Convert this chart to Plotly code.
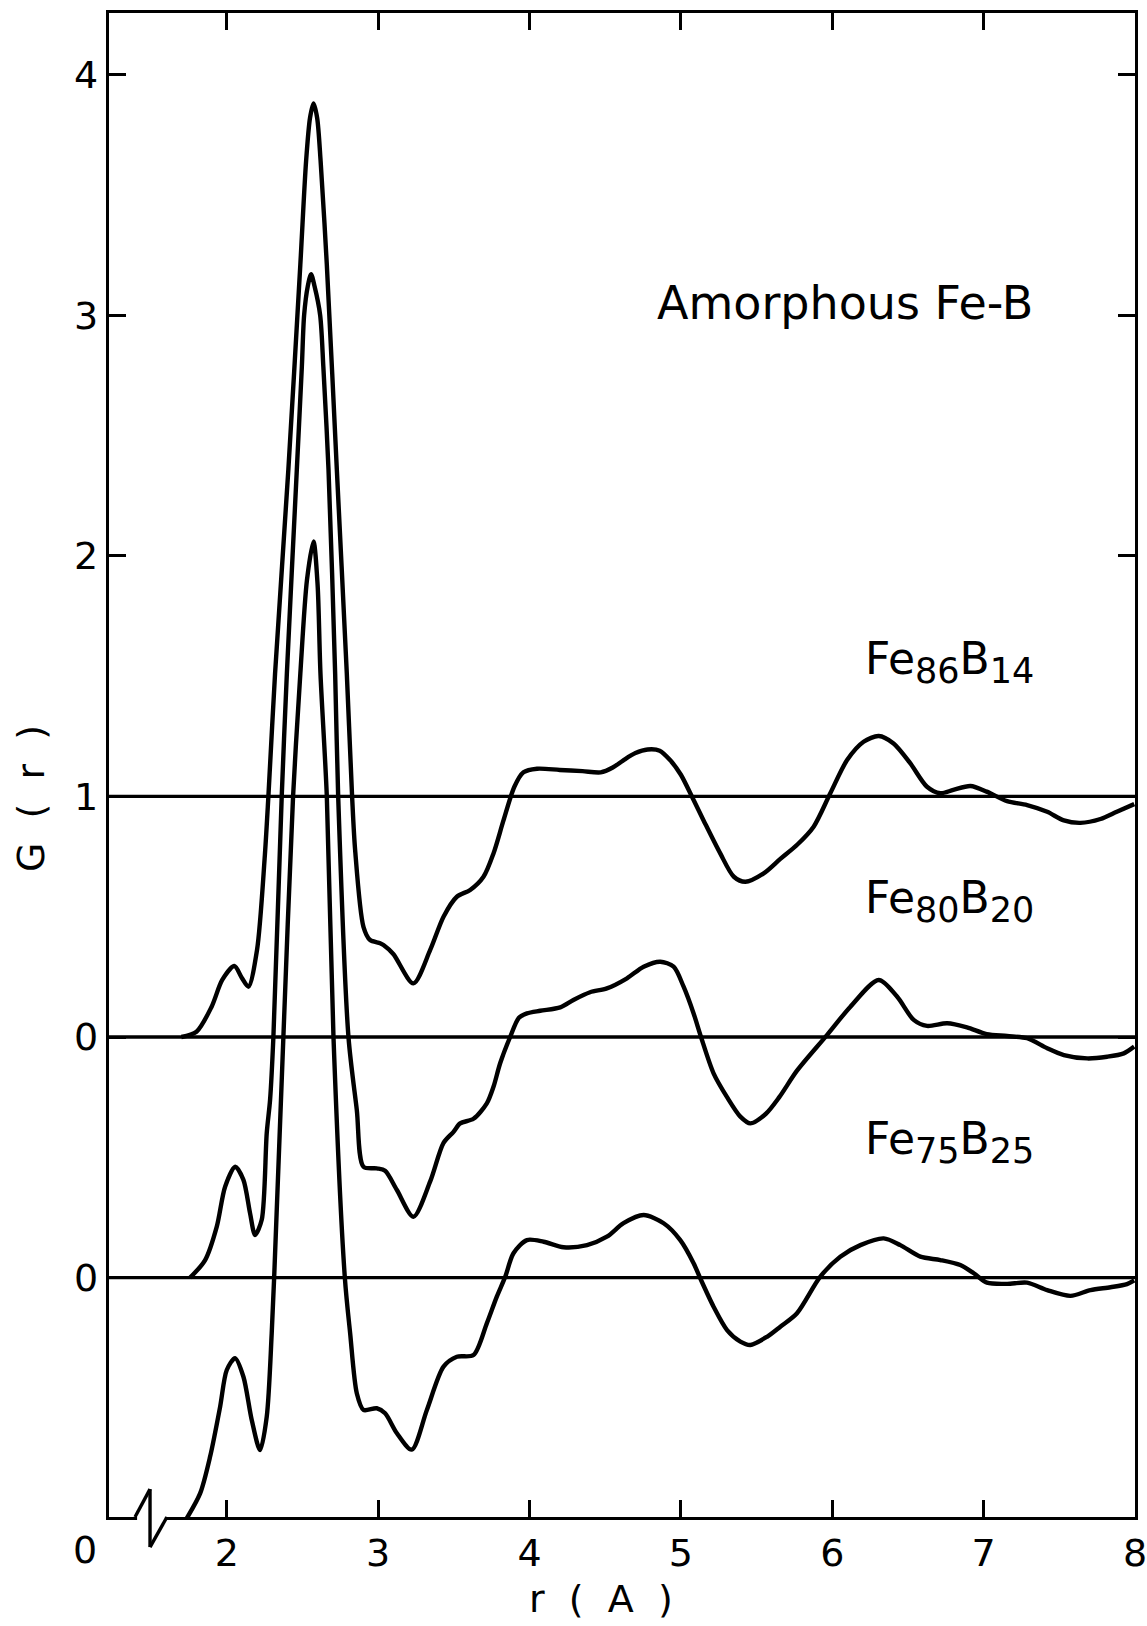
import plotly.graph_objects as go

# ---------------- data ----------------
# r in Angstrom, g(r) raw values; curves are shifted by OFFSETS when drawn
R_FE86B14 = [1.70, 1.80, 1.90, 1.97, 2.05, 2.10, 2.143, 2.20, 2.25, 2.275, 2.319, 2.407, 2.486, 2.524,
             2.55, 2.573, 2.597, 2.62, 2.661, 2.727, 2.793, 2.828, 2.848, 2.903, 2.947, 3.013, 3.035,
             3.10, 3.233, 3.344, 3.432, 3.52, 3.608, 3.696, 3.762, 3.828, 3.90, 3.96, 4.05, 4.20, 4.35,
             4.47, 4.55, 4.62, 4.70, 4.78, 4.86, 4.93, 5.00, 5.08, 5.15, 5.26, 5.35, 5.426, 5.547, 5.657,
             5.77, 5.877, 5.987, 6.098, 6.207, 6.307, 6.405, 6.515, 6.626, 6.714, 6.80, 6.913, 7.02,
             7.155, 7.287, 7.42, 7.53, 7.64, 7.772, 7.88, 7.995]
G_FE86B14 = [0.0, 0.022, 0.126, 0.237, 0.295, 0.245, 0.209, 0.362, 0.74, 1.0, 1.51, 2.36, 3.21, 3.64,
             3.82, 3.88, 3.82, 3.64, 3.21, 2.36, 1.51, 1.0, 0.777, 0.458, 0.403, 0.39, 0.382,
             0.345, 0.223, 0.362, 0.50, 0.583, 0.611, 0.666, 0.763, 0.90, 1.04, 1.10, 1.115, 1.11, 1.105,
             1.10, 1.12, 1.15, 1.18, 1.195, 1.19, 1.15, 1.09, 0.99, 0.90, 0.763, 0.666, 0.645, 0.68, 0.74,
             0.80, 0.874, 1.013, 1.151, 1.227, 1.251, 1.22, 1.138, 1.04, 1.013, 1.027, 1.043, 1.02,
             0.98, 0.964, 0.936, 0.90, 0.89, 0.906, 0.936, 0.968]

R_FE80B20 = [1.758, 1.857, 1.934, 1.989, 2.056, 2.11, 2.154, 2.187, 2.231, 2.264, 2.286, 2.308, 2.363,
             2.397, 2.463, 2.496, 2.511, 2.535, 2.557, 2.58, 2.617, 2.638, 2.672, 2.716, 2.736, 2.804,
             2.859, 2.903, 2.991, 3.046, 3.124, 3.233, 3.344, 3.432, 3.498, 3.542, 3.63, 3.718, 3.762,
             3.806, 3.872, 3.93, 3.983, 4.071, 4.203, 4.29, 4.40, 4.511, 4.644, 4.754, 4.864, 4.952,
             5.018, 5.084, 5.133, 5.216, 5.305, 5.393, 5.459, 5.56, 5.65, 5.767, 5.965, 6.12, 6.307,
             6.428, 6.538, 6.626, 6.759, 6.89, 7.02, 7.155, 7.287, 7.42, 7.53, 7.684, 7.816, 7.926, 7.995]
G_FE80B20 = [0.0, 0.073, 0.212, 0.378, 0.461, 0.406, 0.267, 0.177, 0.24, 0.60, 0.738, 1.0, 2.0,
             2.51, 3.36, 3.786, 4.0, 4.12, 4.17, 4.12, 4.0, 3.786, 3.36, 2.51, 2.0, 1.0,
             0.697, 0.461, 0.454, 0.444, 0.364, 0.253, 0.40, 0.56, 0.606, 0.641, 0.66, 0.724, 0.793,
             0.891, 1.0, 1.08, 1.098, 1.109, 1.123, 1.154, 1.186, 1.202, 1.244, 1.292, 1.313, 1.292,
             1.209, 1.098, 1.0, 0.849, 0.75, 0.669, 0.641, 0.68, 0.75, 0.86, 1.008, 1.126, 1.237,
             1.168, 1.071, 1.046, 1.057, 1.04, 1.012, 1.004, 0.995, 0.953, 0.925, 0.911, 0.918, 0.932, 0.96]

R_FE75B25 = [1.736, 1.824, 1.89, 1.956, 2.0, 2.055, 2.11, 2.165, 2.22, 2.264, 2.297, 2.313, 2.374,
             2.438, 2.486, 2.53, 2.573, 2.60, 2.619, 2.661, 2.705, 2.78, 2.815, 2.859, 2.903, 2.991,
             3.046, 3.124, 3.222, 3.322, 3.432, 3.52, 3.63, 3.718, 3.784, 3.84, 3.894, 3.983, 4.093,
             4.225, 4.38, 4.511, 4.621, 4.754, 4.886, 4.996, 5.084, 5.128, 5.216, 5.305, 5.393, 5.459,
             5.569, 5.657, 5.767, 5.921, 6.053, 6.186, 6.34, 6.45, 6.582, 6.714, 6.846, 6.935, 7.022,
             7.155, 7.287, 7.42, 7.574, 7.706, 7.838, 7.947, 7.995]
G_FE75B25 = [0.0, 0.103, 0.256, 0.463, 0.616, 0.665, 0.588, 0.408, 0.283, 0.422, 0.769, 1.0, 2.0,
             3.0, 3.51, 3.9, 4.06, 3.88, 3.51, 3.0, 2.0, 1.0, 0.769, 0.519, 0.45, 0.457,
             0.436, 0.353, 0.285, 0.45, 0.63, 0.671, 0.678, 0.81, 0.921, 1.004, 1.101, 1.156, 1.149,
             1.126, 1.135, 1.17, 1.226, 1.26, 1.226, 1.156, 1.06, 0.997, 0.879, 0.782, 0.734, 0.72,
             0.754, 0.796, 0.852, 1.004, 1.087, 1.135, 1.163, 1.135, 1.087, 1.073, 1.052, 1.018, 0.979,
             0.974, 0.979, 0.948, 0.924, 0.948, 0.96, 0.973, 0.988]

SERIES = [("Fe", "86", "B", "14"), ("Fe", "80", "B", "20"), ("Fe", "75", "B", "25")]
OFFSETS = [0.0, -1.0, -2.0]
LABEL_X = [6.2, 6.2, 6.2]
LABEL_Y = [1.56, 0.565, -0.435]

X_RANGE = [1.222, 8.0]
Y_RANGE = [-1.995, 4.256]
X_TICKS = [2, 3, 4, 5, 6, 7, 8]
Y_TICKS = [4, 3, 2, 1, 0, -1]
Y_TICKTEXT = ["4", "3", "2", "1", "0", "0"]

# axis-break zig-zag on the r axis
BREAK_R = [1.394, 1.493, 1.493, 1.605]
BREAK_G = [-1.995, -1.879, -2.12, -1.995]

FONT = "DejaVu Sans"
fig = go.Figure()

# g = 1 reference lines of each curve
for off in OFFSETS:
    fig.add_trace(go.Scatter(x=X_RANGE, y=[1 + off, 1 + off], mode="lines",
                             line=dict(color="black", width=3.4), showlegend=False, hoverinfo="skip"))

for r, g, off in zip([R_FE86B14, R_FE80B20, R_FE75B25], [G_FE86B14, G_FE80B20, G_FE75B25], OFFSETS):
    fig.add_trace(go.Scatter(x=r, y=[v + off for v in g], mode="lines",
                             line=dict(color="black", width=4.4, shape="spline", smoothing=0.8),
                             showlegend=False, hoverinfo="skip"))

def fx(v):
    return (v - X_RANGE[0]) / (X_RANGE[1] - X_RANGE[0])

def fy(v):
    return (v - Y_RANGE[0]) / (Y_RANGE[1] - Y_RANGE[0])

shapes = [dict(type="line", xref="x domain", yref="y domain", x0=fx(BREAK_R[0]) + 0.002, x1=fx(BREAK_R[-1]) - 0.002,
               y0=-0.002, y1=-0.002, line=dict(color="white", width=8), layer="above")]
for i in range(len(BREAK_R) - 1):
    shapes.append(dict(type="line", xref="x domain", yref="y domain",
                       x0=fx(BREAK_R[i]), y0=fy(BREAK_G[i]), x1=fx(BREAK_R[i + 1]), y1=fy(BREAK_G[i + 1]),
                       line=dict(color="black", width=3.4), layer="above"))

def sub(t):
    return "<sub><span style='font-size:35px'>%s</span></sub>" % t

annotations = [dict(text="Amorphous Fe-B", x=6.087, y=3.051, xref="x", yref="y", showarrow=False,
                    font=dict(family=FONT, size=46, color="black"), xanchor="center", yanchor="middle")]
for (a, na, b, nb), lx, ly in zip(SERIES, LABEL_X, LABEL_Y):
    annotations.append(dict(text=a + sub(na) + b + sub(nb), x=lx, y=ly, xref="x", yref="y", showarrow=False,
                            font=dict(family=FONT, size=44, color="black"), xanchor="left", yanchor="middle"))
annotations.append(dict(text="0", x=-0.0234, y=-0.0219, xref="paper", yref="paper", showarrow=False,
                        font=dict(family=FONT, size=38, color="black"), xanchor="center", yanchor="middle"))
annotations.append(dict(text="G\u00a0\u00a0(\u00a0\u00a0r\u00a0\u00a0)", x=-0.0761, y=0.478, xref="paper", yref="paper",
                        showarrow=False, textangle=-90,
                        font=dict(family=FONT, size=38, color="black"), xanchor="center", yanchor="middle"))
annotations.append(dict(text="r\u00a0\u00a0(\u00a0\u00a0A\u00a0\u00a0)", x=0.48, y=-0.0545, xref="paper", yref="paper",
                        showarrow=False,
                        font=dict(family=FONT, size=38, color="black"), xanchor="center", yanchor="middle"))

fig.update_layout(
    width=1147, height=1626,
    margin=dict(l=109, r=12, t=13, b=109, autoexpand=False),
    paper_bgcolor="white", plot_bgcolor="white",
    shapes=shapes, annotations=annotations,
    xaxis=dict(range=X_RANGE, tickvals=X_TICKS, ticktext=[str(v) for v in X_TICKS],
               ticks="inside", ticklen=17, tickwidth=3.4, tickcolor="black",
               showline=True, linewidth=3.4, linecolor="black", mirror="ticks",
               showgrid=False, zeroline=False, automargin=False, ticklabeloverflow="allow",
               tickfont=dict(family=FONT, size=38, color="black")),
    yaxis=dict(range=Y_RANGE, tickvals=Y_TICKS, ticktext=Y_TICKTEXT,
               ticks="inside", ticklen=17, tickwidth=3.4, tickcolor="black",
               showline=True, linewidth=3.4, linecolor="black", mirror="ticks",
               showgrid=False, zeroline=False, automargin=False, ticklabeloverflow="allow",
               tickfont=dict(family=FONT, size=38, color="black")),
)

fig.write_html("out.html")
